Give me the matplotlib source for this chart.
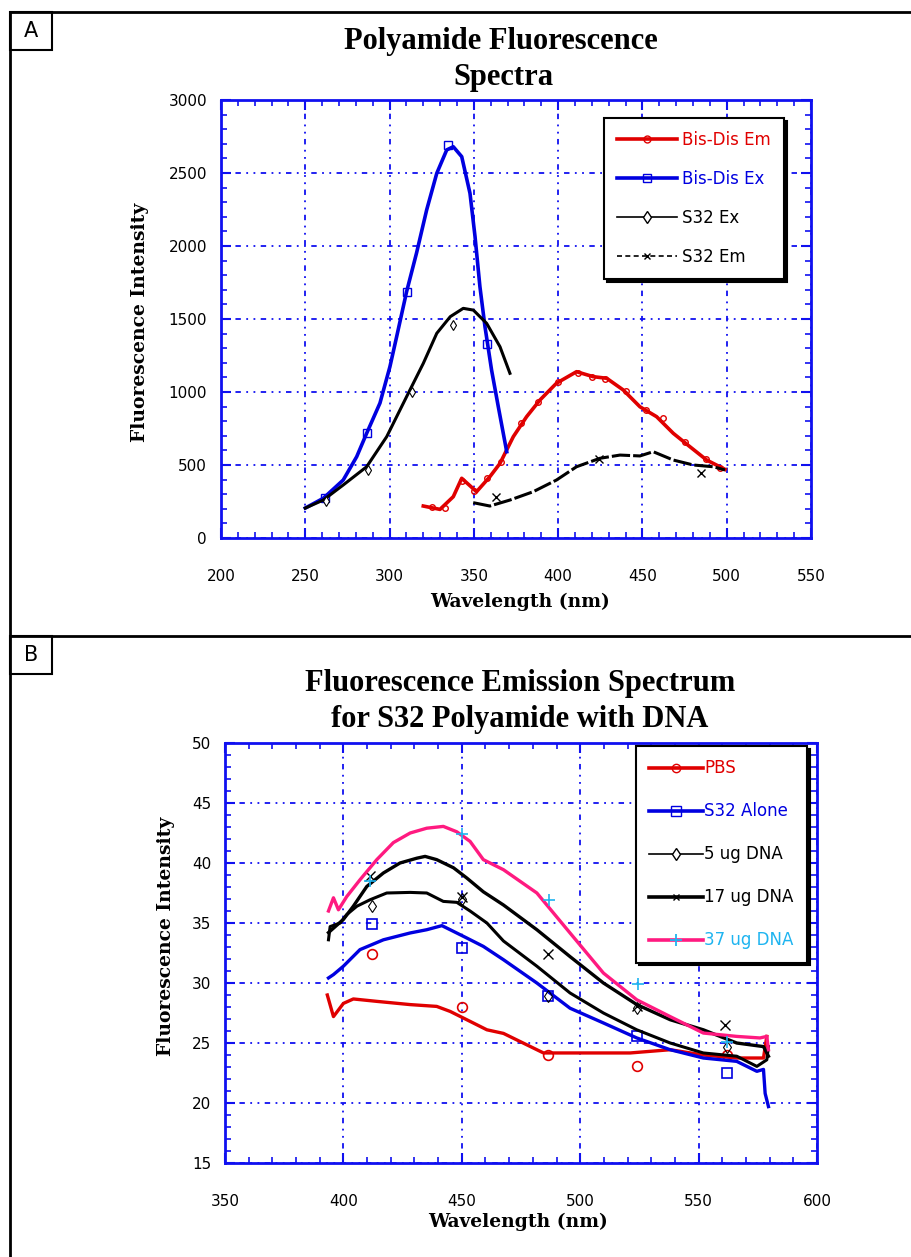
import numpy as np
import matplotlib.pyplot as plt
from matplotlib.lines import Line2D
from matplotlib.patches import Rectangle
from matplotlib.ticker import MultipleLocator

# ---------------- Panel A data (wavelength nm, intensity) ----------------
bis_ex_x = [250, 260.7, 272.5, 280.5, 286.4, 294.3, 300.2, 304.2, 310.1, 316, 322, 328,
            333.9, 337.8, 342.8, 347.7, 350.7, 353.6, 356.6, 360.5, 364.5, 369.5]
bis_ex_y = [205, 272, 397, 557, 717, 924, 1173, 1379, 1687, 1952, 2247, 2498,
            2658, 2680, 2612, 2361, 2064, 1721, 1447, 1151, 899, 591]

s32_ex_x = [250, 260.7, 272.5, 286.4, 298.3, 310.1, 320, 328, 336, 343.7, 349.7, 357.6, 365.5, 371.4]
s32_ex_y = [205, 260, 363, 488, 694, 968, 1196, 1402, 1516, 1573, 1561, 1470, 1310, 1128]

bis_em_x = [320, 329.9, 337.8, 342.8, 351.6, 359.5, 365.5, 373.4, 381.3, 389.2, 399, 410.9,
            420.8, 428.8, 438.6, 448.5, 458.4, 468.3, 478.2, 488.1, 499]
bis_em_y = [219, 196, 283, 409, 317, 420, 511, 694, 831, 945, 1060, 1139,
            1105, 1094, 1014, 899, 831, 717, 625, 534, 470]

s32_em_x = [349.6, 359.5, 371.4, 385.2, 399, 410.9, 424.8, 436.7, 448.5, 456.4, 468.3, 480.2, 492, 499]
s32_em_y = [242, 219, 260, 317, 397, 488, 546, 568, 562, 591, 534, 500, 488, 466]

# marker positions (panel A)
bis_ex_mx = [261.7, 286.4, 310.5, 334.7, 357.9]
bis_ex_my = [272, 717, 1687, 2692, 1329]
bis_em_mx = [325, 333, 343, 350, 358, 366, 378, 388, 400, 412, 420, 428, 440, 452, 462, 475, 488, 496]
bis_em_my = [210, 205, 390, 320, 410, 520, 790, 930, 1070, 1130, 1100, 1090, 1010, 880, 820, 660, 540, 480]
s32_ex_mx = [262, 287.4, 313.1, 337.8]
s32_ex_my = [255, 466, 1002, 1459]
s32_em_mx = [363.4, 424, 485]
s32_em_my = [283, 540, 443]

# ---------------- Panel B data ----------------
pbs_x = [393.2, 395.8, 400, 404.2, 414.1, 428.2, 439.4, 445.1, 452.1, 460.6, 467.6, 484.5,
         502.8, 521.1, 538, 552, 566.1, 577.4, 578.8]
pbs_y = [29.0, 27.2, 28.3, 28.67, 28.47, 28.2, 28.05, 27.63, 26.94, 26.1, 25.8, 24.17,
         24.17, 24.17, 24.44, 24.0, 23.75, 23.75, 25.55]

alone_x = [393.7, 395.8, 400, 407, 416.9, 428.2, 435.2, 441.6, 446.5, 452.1, 459.1, 467.6,
           481.7, 495.7, 509.8, 523.9, 538, 552, 566.1, 574.6, 577.4, 578.1, 579.5]
alone_y = [30.42, 30.7, 31.4, 32.78, 33.6, 34.17, 34.44, 34.78, 34.3, 33.75, 33.05, 31.94,
           30.0, 27.9, 26.67, 25.42, 24.44, 23.75, 23.47, 22.64, 22.8, 20.8, 19.7]

dna5_x = [393.7, 394.4, 398.6, 401.4, 405.7, 411.3, 418.3, 428.2, 435.2, 442.2, 447.9, 453.5,
          460.6, 467.6, 481.7, 495.7, 509.8, 523.9, 538, 552, 566.1, 574.6, 578.8, 579.5]
dna5_y = [33.6, 34.7, 35.0, 35.7, 36.4, 36.94, 37.5, 37.55, 37.5, 36.8, 36.72, 36.0,
          35.0, 33.5, 31.4, 29.17, 27.5, 26.1, 25.0, 24.17, 23.9, 23.05, 23.6, 24.7]

dna17_x = [393.7, 400, 404.2, 409.9, 416.9, 423.9, 431, 434.5, 439.4, 446.5, 452.1, 459.1,
           467.6, 481.7, 495.7, 509.8, 523.9, 538, 552, 566.1, 577.4, 579.5]
dna17_y = [34.2, 35.3, 36.4, 38.05, 39.17, 40.0, 40.4, 40.55, 40.28, 39.6, 38.75, 37.6,
           36.5, 34.44, 32.2, 30.0, 28.2, 26.94, 26.1, 25.0, 24.7, 23.9]

dna37_x = [393.7, 395.8, 397.9, 401.4, 407, 414.1, 421.1, 428.2, 435.2, 442.2, 447.9, 453.5,
           459.1, 467.6, 481.7, 495.7, 509.8, 523.9, 538, 552, 566.1, 575.9, 578.8, 579.5]
dna37_y = [36.0, 37.1, 36.1, 37.2, 38.6, 40.28, 41.7, 42.5, 42.9, 43.05, 42.6, 41.8,
           40.28, 39.44, 37.5, 34.17, 30.83, 28.6, 27.2, 25.83, 25.55, 25.42, 25.55, 24.44]

# marker positions (panel B)
pbs_mx = [412, 450, 486.6, 523.9, 561.9]
pbs_my = [32.4, 28.0, 24.0, 23.05, 24.0]
alone_mx = [412, 450, 486.6, 523.9, 561.9]
alone_my = [34.94, 32.9, 28.9, 25.55, 22.5]
dna5_mx = [412, 450, 486.6, 523.9, 561.9]
dna5_my = [36.4, 37.0, 28.9, 27.9, 24.7]
dna17_mx = [411.3, 450, 486.6, 523.9, 561.2]
dna17_my = [38.9, 37.2, 32.4, 28.05, 26.5]
dna37_mx = [411.3, 450, 486.9, 524.6, 561.9]
dna37_my = [38.5, 42.4, 36.94, 29.9, 25.1]

RED = '#e00000'
BLUE = '#0000e0'
PINK = '#ff1a80'
CYAN = '#1eb4f0'
GRID_BLUE = '#1010f0'

W, H = 912, 1257
fig = plt.figure(figsize=(W / 100, H / 100), dpi=100)
fig.patch.set_facecolor('white')


def fx(px):
    return px / W


def fy(py):
    return 1 - py / H


title_font = ['Liberation Serif', 'DejaVu Serif']
label_font = ['DejaVu Serif']
sans = ['DejaVu Sans']


def style_axes(ax):
    for sp in ax.spines.values():
        sp.set_color(GRID_BLUE)
        sp.set_linewidth(2)
    ax.tick_params(which='both', direction='in', top=True, right=True,
                   color=GRID_BLUE, labelsize=11, labelcolor='black')
    ax.tick_params(which='major', length=7, width=1.5)
    ax.tick_params(which='minor', length=4, width=1.2)
    ax.tick_params(axis='x', which='major', pad=22)
    ax.tick_params(axis='y', which='major', pad=10)
    for lab in ax.get_xticklabels() + ax.get_yticklabels():
        lab.set_family(sans)
    ax.grid(True, which='major', color=GRID_BLUE, linestyle=(0, (1, 3, 1, 3, 3, 3)),
            linewidth=1.3)
    ax.set_axisbelow(True)


# ---------------- frame lines and panel labels ----------------
fig.add_artist(Line2D([fx(10), fx(10)], [fy(12), fy(1257)], color='black', lw=2))
fig.add_artist(Line2D([fx(10), fx(912)], [fy(12), fy(12)], color='black', lw=2))
fig.add_artist(Line2D([fx(10), fx(912)], [fy(636), fy(636)], color='black', lw=2))
for lab, top in [('A', 12), ('B', 636)]:
    fig.add_artist(Rectangle((fx(10), fy(top + 38)), fx(42), 38 / H, fill=False,
                             edgecolor='black', lw=1.5, transform=fig.transFigure))
    fig.text(fx(31), fy(top + 19), lab, ha='center', va='center', fontsize=15,
             family=sans)

# ---------------- Panel A ----------------
axA = fig.add_axes([fx(221), fy(538), fx(590), (538 - 100) / H])
axA.plot(bis_em_x, bis_em_y, color=RED, lw=2.6)
axA.plot(bis_em_mx, bis_em_my, ls='none', marker='o', ms=4, mfc='none', mec=RED, mew=1)
axA.plot(bis_ex_x, bis_ex_y, color=BLUE, lw=2.6)
axA.plot(bis_ex_mx, bis_ex_my, ls='none', marker='s', ms=6, mfc='none', mec=BLUE, mew=1)
axA.plot(s32_ex_x, s32_ex_y, color='black', lw=2.2)
axA.plot(s32_ex_mx, s32_ex_my, ls='none', marker='d', ms=5, mfc='white', mec='black', mew=0.8)
axA.plot(s32_em_x, s32_em_y, color='black', lw=2.2, ls=(0, (6, 1)))
axA.plot(s32_em_mx, s32_em_my, ls='none', marker='x', ms=6, color='black', mew=1)

axA.set_xlim(200, 550)
axA.set_ylim(0, 3000)
axA.xaxis.set_major_locator(MultipleLocator(50))
axA.xaxis.set_minor_locator(MultipleLocator(10))
axA.yaxis.set_major_locator(MultipleLocator(500))
axA.yaxis.set_minor_locator(MultipleLocator(100))
style_axes(axA)

handlesA = [
    Line2D([], [], color=RED, lw=2.6, marker='o', ms=5, mfc='none', mec=RED),
    Line2D([], [], color=BLUE, lw=2.6, marker='s', ms=6, mfc='none', mec=BLUE),
    Line2D([], [], color='black', lw=1.2, marker='d', ms=6, mfc='white', mec='black'),
    Line2D([], [], color='black', lw=1.2, ls=(0, (3, 2)), marker='x', ms=5),
]
labelsA = ['Bis-Dis Em', 'Bis-Dis Ex', 'S32 Ex', 'S32 Em']
legA = axA.legend(handlesA, labelsA, loc='upper left', bbox_to_anchor=(fx(604), fy(118)),
                  bbox_transform=fig.transFigure, numpoints=1, fancybox=False,
                  shadow={'color': 'black', 'alpha': 1}, framealpha=1,
                  edgecolor='black', prop={'family': sans, 'size': 12},
                  handlelength=3.6, labelspacing=1.25, borderpad=0.8, handletextpad=0.3,
                  borderaxespad=0)
legA.get_frame().set_linewidth(1.5)
for t, c in zip(legA.get_texts(), [RED, BLUE, 'black', 'black']):
    t.set_color(c)

fig.text(fx(501), fy(42), 'Polyamide Fluorescence', ha='center', va='center',
         fontsize=22, fontweight='bold', family=title_font)
fig.text(fx(503), fy(78), 'Spectra', ha='center', va='center',
         fontsize=22, fontweight='bold', family=title_font)
fig.text(fx(140), fy(322), 'Fluorescence Intensity', ha='center', va='center',
         rotation=90, fontsize=13.5, fontweight='bold', family=label_font)
fig.text(fx(520), fy(602), 'Wavelength (nm)', ha='center', va='center',
         fontsize=13.5, fontweight='bold', family=label_font)

# ---------------- Panel B ----------------
axB = fig.add_axes([fx(225), fy(1163), fx(592), (1163 - 743) / H])
axB.plot(pbs_x, pbs_y, color=RED, lw=2.4)
axB.plot(pbs_mx, pbs_my, ls='none', marker='o', ms=7, mfc='none', mec=RED, mew=1.2)
axB.plot(alone_x, alone_y, color=BLUE, lw=2.4)
axB.plot(alone_mx, alone_my, ls='none', marker='s', ms=7, mfc='none', mec=BLUE, mew=1.2)
axB.plot(dna5_x, dna5_y, color='black', lw=2.2)
axB.plot(dna5_mx, dna5_my, ls='none', marker='d', ms=6, mfc='none', mec='black', mew=0.8)
axB.plot(dna17_x, dna17_y, color='black', lw=2.4)
axB.plot(dna17_mx, dna17_my, ls='none', marker='x', ms=7, color='black', mew=1)
axB.plot(dna37_x, dna37_y, color=PINK, lw=2.4)
axB.plot(dna37_mx, dna37_my, ls='none', marker='+', ms=8, color=CYAN, mew=1.2)

axB.set_xlim(350, 600)
axB.set_ylim(15, 50)
axB.xaxis.set_major_locator(MultipleLocator(50))
axB.xaxis.set_minor_locator(MultipleLocator(10))
axB.yaxis.set_major_locator(MultipleLocator(5))
axB.yaxis.set_minor_locator(MultipleLocator(1))
style_axes(axB)

handlesB = [
    Line2D([], [], color=RED, lw=2.6, marker='o', ms=6, mfc='none', mec=RED),
    Line2D([], [], color=BLUE, lw=2.6, marker='s', ms=7, mfc='none', mec=BLUE),
    Line2D([], [], color='black', lw=1.2, marker='d', ms=6, mfc='white', mec='black'),
    Line2D([], [], color='black', lw=2.6, marker='x', ms=5, mec='black'),
    Line2D([], [], color=PINK, lw=2.6, marker='+', ms=9, mec=CYAN, mew=1.3),
]
labelsB = ['PBS', 'S32 Alone', '5 ug DNA', '17 ug DNA', '37 ug DNA']
legB = axB.legend(handlesB, labelsB, loc='upper left', bbox_to_anchor=(fx(636), fy(746)),
                  bbox_transform=fig.transFigure, numpoints=1, fancybox=False,
                  shadow={'color': 'black', 'alpha': 1}, framealpha=1,
                  edgecolor='black', prop={'family': sans, 'size': 12},
                  handlelength=3.2, labelspacing=1.5, borderpad=0.8, handletextpad=0.1,
                  borderaxespad=0)
legB.get_frame().set_linewidth(1.5)
for t, c in zip(legB.get_texts(), [RED, BLUE, 'black', 'black', CYAN]):
    t.set_color(c)

fig.text(fx(520), fy(683), 'Fluorescence Emission Spectrum', ha='center', va='center',
         fontsize=22, fontweight='bold', family=title_font)
fig.text(fx(520), fy(719), 'for S32 Polyamide with DNA', ha='center', va='center',
         fontsize=22, fontweight='bold', family=title_font)
fig.text(fx(166), fy(936), 'Fluorescence Intensity', ha='center', va='center',
         rotation=90, fontsize=13.5, fontweight='bold', family=label_font)
fig.text(fx(518), fy(1222), 'Wavelength (nm)', ha='center', va='center',
         fontsize=13.5, fontweight='bold', family=label_font)

fig.savefig('out.png', dpi=100)
